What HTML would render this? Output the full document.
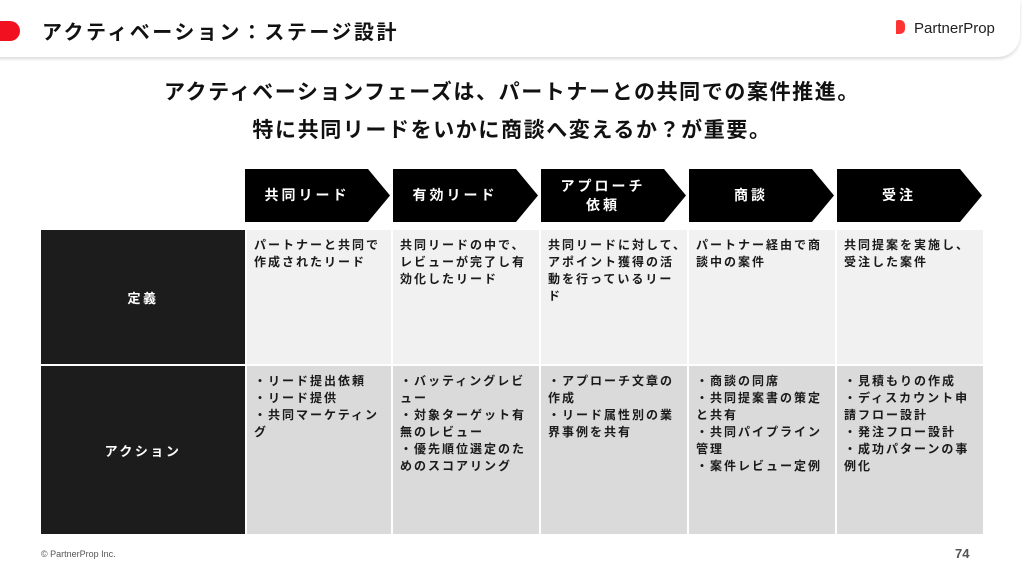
<!DOCTYPE html>
<html><head><meta charset="utf-8"><style>
*{margin:0;padding:0;box-sizing:border-box}
body{width:1024px;height:576px;background:#fff;position:relative;overflow:hidden;font-family:"Liberation Sans","Noto Sans CJK JP",sans-serif;color:#111}
.a{position:absolute}
.hdr{left:-20px;top:0;width:1040px;height:57px;background:#fff;border-radius:0 0 22px 0;box-shadow:0 2px 3px rgba(0,0,0,.15)}
.cell{position:absolute;font-size:12px;font-weight:bold;line-height:17px;padding:7px 2px 0 7px;color:#1a1a1a;letter-spacing:2px;white-space:nowrap}
.r1{top:230px;height:134px;background:#f1f1f1}
.r2{top:366px;height:168px;background:#dadada}
.lab{position:absolute;left:41px;width:204px;background:#1c1c1c;color:#fff;font-size:13px;font-weight:bold;display:flex;align-items:center;justify-content:center;letter-spacing:2.5px}
.chev{position:absolute;top:169px;height:53px}
.chev div{position:absolute;left:0;top:0;width:124px;height:53px;color:#fff;font-size:14px;font-weight:bold;display:flex;align-items:center;justify-content:center;text-align:center;line-height:19px;letter-spacing:3px}
</style></head><body>
<div class="a hdr"></div>
<div class="a" style="left:0;top:21px;width:20px;height:20px;background:#f01020;border-radius:0 10px 10px 0"></div>
<div class="a" style="left:42px;top:16px;font-size:20px;font-weight:bold;letter-spacing:2.5px">アクティベーション：ステージ設計</div>
<div class="a" style="left:896px;top:20px;width:9px;height:14px;background:#f33;border-radius:2px 5px 5px 0"></div>
<div class="a" style="left:914px;top:20px;font-size:15px;color:#222">PartnerProp</div>
<div class="a" style="left:0;top:74px;width:1024px;text-align:center;font-size:21px;font-weight:bold;line-height:38px;letter-spacing:1.6px">アクティベーションフェーズは、パートナーとの共同での案件推進。<br>特に共同リードをいかに商談へ変えるか？が重要。</div>

<svg class="a" style="left:0;top:0" width="1024" height="576">
<g fill="#000">
<polygon points="245,169 368,169 390,195.5 368,222 245,222"/>
<polygon points="393,169 516,169 538,195.5 516,222 393,222"/>
<polygon points="541,169 664,169 686,195.5 664,222 541,222"/>
<polygon points="689,169 812,169 834,195.5 812,222 689,222"/>
<polygon points="837,169 960,169 982,195.5 960,222 837,222"/>
</g></svg>
<div class="chev" style="left:245px"><div>共同リード</div></div>
<div class="chev" style="left:393px"><div>有効リード</div></div>
<div class="chev" style="left:541px"><div>アプローチ<br>依頼</div></div>
<div class="chev" style="left:689px"><div>商談</div></div>
<div class="chev" style="left:837px"><div>受注</div></div>

<div class="lab" style="top:230px;height:134px">定義</div>
<div class="lab" style="top:366px;height:168px">アクション</div>

<div class="cell r1" style="left:247px;width:144px">パートナーと共同で<br>作成されたリード</div>
<div class="cell r1" style="left:393px;width:146px">共同リードの中で、<br>レビューが完了し有<br>効化したリード</div>
<div class="cell r1" style="left:541px;width:146px">共同リードに対して、<br>アポイント獲得の活<br>動を行っているリー<br>ド</div>
<div class="cell r1" style="left:689px;width:146px">パートナー経由で商<br>談中の案件</div>
<div class="cell r1" style="left:837px;width:146px">共同提案を実施し、<br>受注した案件</div>

<div class="cell r2" style="left:247px;width:144px">・リード提出依頼<br>・リード提供<br>・共同マーケティン<br>グ</div>
<div class="cell r2" style="left:393px;width:146px">・バッティングレビ<br>ュー<br>・対象ターゲット有<br>無のレビュー<br>・優先順位選定のた<br>めのスコアリング</div>
<div class="cell r2" style="left:541px;width:146px">・アプローチ文章の<br>作成<br>・リード属性別の業<br>界事例を共有</div>
<div class="cell r2" style="left:689px;width:146px">・商談の同席<br>・共同提案書の策定<br>と共有<br>・共同パイプライン<br>管理<br>・案件レビュー定例</div>
<div class="cell r2" style="left:837px;width:146px">・見積もりの作成<br>・ディスカウント申<br>請フロー設計<br>・発注フロー設計<br>・成功パターンの事<br>例化</div>

<div class="a" style="left:41px;top:549px;font-size:9px;color:#555">© PartnerProp Inc.</div>
<div class="a" style="left:955px;top:546px;font-size:13px;font-weight:bold;color:#555">74</div>
</body></html>
